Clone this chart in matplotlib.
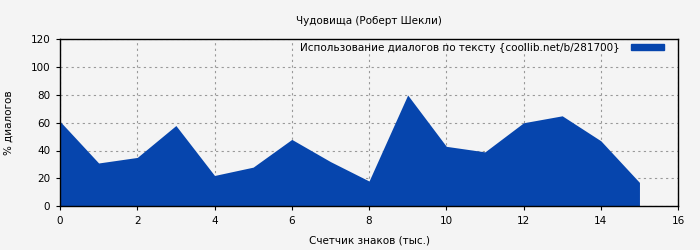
import numpy as np
import matplotlib.pyplot as plt
from matplotlib.patches import Patch


title    = "Чудовища (Роберт Шекли)"
xlabel   = "Счетчик знаков (тыс.)"
ylabel   = "% диалогов"
legend   = "Использование диалогов по тексту {coollib.net/b/281700}"
chars_k  = [0, 1, 2, 3, 4, 5, 6, 7, 8, 9, 10, 11, 12, 13, 14, 15]
dialogs  = [61, 31, 35, 58, 22, 28, 48, 32, 18, 80, 43, 39, 60, 65, 47, 17]

blue = "#0645ad"
bg   = "#f4f4f4"

plt.rcParams.update({"font.size": 7.5, "font.family": "DejaVu Sans"})
fig = plt.figure(figsize=(7, 2.5), dpi=100, facecolor=bg)
ax = fig.add_axes([0.0857, 0.176, 0.883, 0.666], facecolor=bg)

ax.fill_between(chars_k, dialogs, 0, color=blue, linewidth=0, zorder=2)
ax.set_xlim(0, 16)
ax.set_ylim(0, 120)
ax.set_xticks(np.arange(0, 17, 2))
ax.set_yticks(np.arange(0, 121, 20))
ax.grid(color="#999999", linestyle=(0, (2, 3)), linewidth=0.8, zorder=1)
ax.tick_params(length=3, width=0.8, direction="out", pad=4)
for s in ax.spines.values():
    s.set_linewidth(1.0)
    s.set_zorder(3)

ax.set_title(title, fontsize=7.5, pad=11)
ax.set_xlabel(xlabel, labelpad=7)
ax.set_ylabel(ylabel, labelpad=12)
ax.legend([Patch(color=blue)], [legend], loc="upper right", frameon=False,
          markerfirst=False, handlelength=3.2, handleheight=0.6,
          borderaxespad=0.0, handletextpad=1.0, borderpad=0.3,
          bbox_to_anchor=(0.982, 1.0))

fig.savefig("out.png", dpi=100, facecolor=bg)
